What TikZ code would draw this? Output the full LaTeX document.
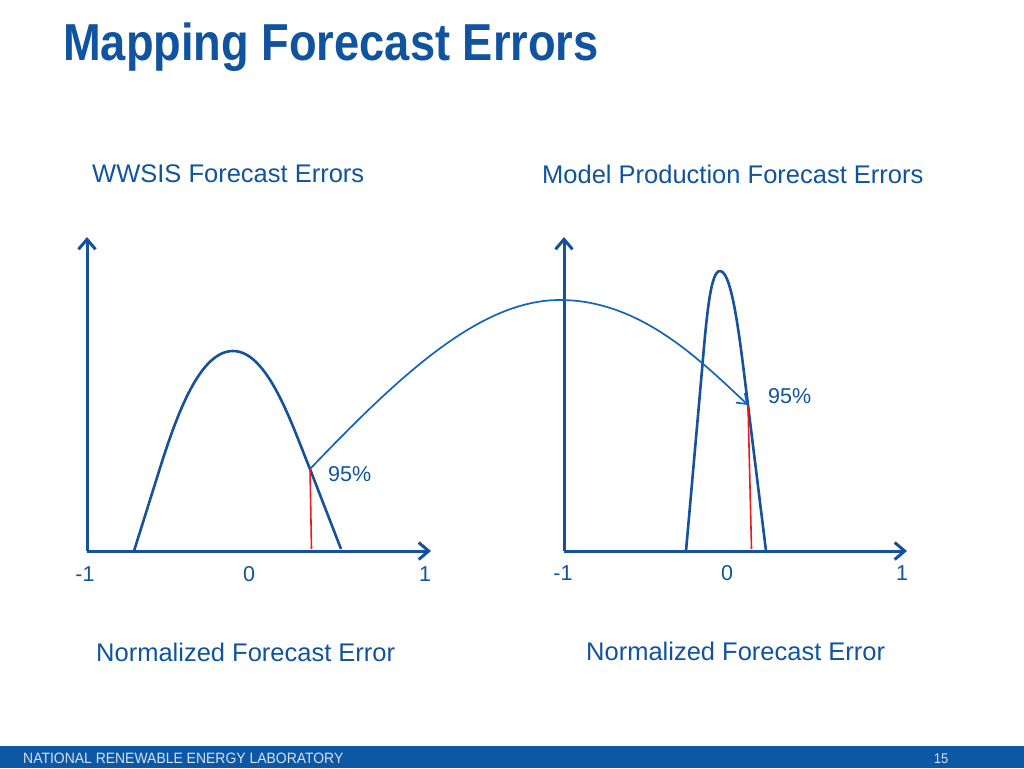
\documentclass[tikz,border=0pt]{standalone}
\usepackage{fontspec}
\setmainfont{Liberation Sans}
\newfontfamily\titlefont[FakeStretch=0.87]{Liberation Sans}
\newfontfamily\footfont[FakeStretch=0.93]{Liberation Sans}
\usepackage{tikz}
\usetikzlibrary{arrows.meta}
\definecolor{nrelblue}{RGB}{16,84,160}
\definecolor{lineblue}{RGB}{22,82,155}
\definecolor{mapblue}{RGB}{20,100,185}
\definecolor{barblue}{RGB}{12,88,165}
\definecolor{footgray}{RGB}{215,225,238}
\definecolor{cutred}{RGB}{232,28,28}

\begin{document}
\begin{tikzpicture}[x=1pt,y=-1pt,
    axis/.style={draw=lineblue,line width=3pt,-{Straight Barb[length=10pt,width=17pt]}},
    pdf/.style={draw=lineblue,line width=2.6pt,line join=round},
    cut/.style={draw=cutred,line width=1.6pt},
    map/.style={draw=mapblue,line width=1.7pt,-{Straight Barb[length=9pt,width=13pt]}},
    head/.style={text=nrelblue,font=\fontsize{25.5}{30}\selectfont,anchor=base west,inner sep=0pt},
    tick/.style={text=nrelblue,font=\fontsize{21.5}{26}\selectfont,anchor=base,inner sep=0pt},
    ]
    \useasboundingbox[fill=white] (0,0) rectangle (1024,768);
    % title and footer
    \node[anchor=base west,inner sep=0pt,text=nrelblue,font=\titlefont\bfseries\fontsize{52}{60}\selectfont] (title) at (63,60) {Mapping Forecast Errors};
    \fill[barblue] (0,746) rectangle (1024,768);
    \node[anchor=base west,inner sep=0pt,text=footgray,font=\footfont\fontsize{15}{18}\selectfont] (lab) at (23,763) {NATIONAL RENEWABLE ENERGY LABORATORY};
    \node[anchor=base,inner sep=0pt,text=footgray,font=\footfont\fontsize{14}{17}\selectfont] (page) at (941,763) {15};

    % axes
    \coordinate (lo) at (87,551);
    \coordinate (ly) at (87,237);
    \coordinate (lx) at (431,551);
    \coordinate (ro) at (564,551);
    \coordinate (ry) at (564,237);
    \coordinate (rx) at (907,551);
    \draw[axis] (lo) -- (ly);
    \draw[axis] (lo) -- (lx);
    \draw[axis] (ro) -- (ry);
    \draw[axis] (ro) -- (rx);

    % the two error curves
    \coordinate (lq) at (310,469);
    \coordinate (rq) at (748,405);
    \draw[pdf] (134,551) -- (160,468) .. controls (177,414) and (200,351) .. (233,351)
        .. controls (268,351) and (292,425) .. (lq) -- (341,549);
    \draw[pdf] (686,551) -- (702,370) .. controls (707,310) and (711,271) .. (720,271)
        .. controls (733,271) and (741,350) .. (rq) -- (766,551);
    \draw[cut] (lq) -- (311.5,549);
    \draw[cut] (rq) -- (751.5,549);
    % \draw[cut, dashed] (lq) -- (rq);
    \draw[map] (lq) .. controls (400,375) and (480,300) .. (560,300)
        .. controls (640,300) and (700,360) .. (rq);

    % labels
    \node[head] (lhead) at (92,182) {WWSIS Forecast Errors};
    \node[head] (rhead) at (542,183) {Model Production Forecast Errors};
    \node[head] (lfoot) at (96,661) {Normalized Forecast Error};
    \node[head] (rfoot) at (586,660) {Normalized Forecast Error};
    \node[tick,anchor=base west] (lpct) at (328,481) {95\%};
    \node[tick,anchor=base west] (rpct) at (768,403) {95\%};
    \node[tick] (lmin) at (85,581) {-1};
    \node[tick] (lzero) at (249,581) {0};
    \node[tick] (lmax) at (425,581) {1};
    \node[tick] (rmin) at (563,580) {-1};
    \node[tick] (rzero) at (727,580) {0};
    \node[tick] (rmax) at (902,580) {1};
\end{tikzpicture}
\end{document}
